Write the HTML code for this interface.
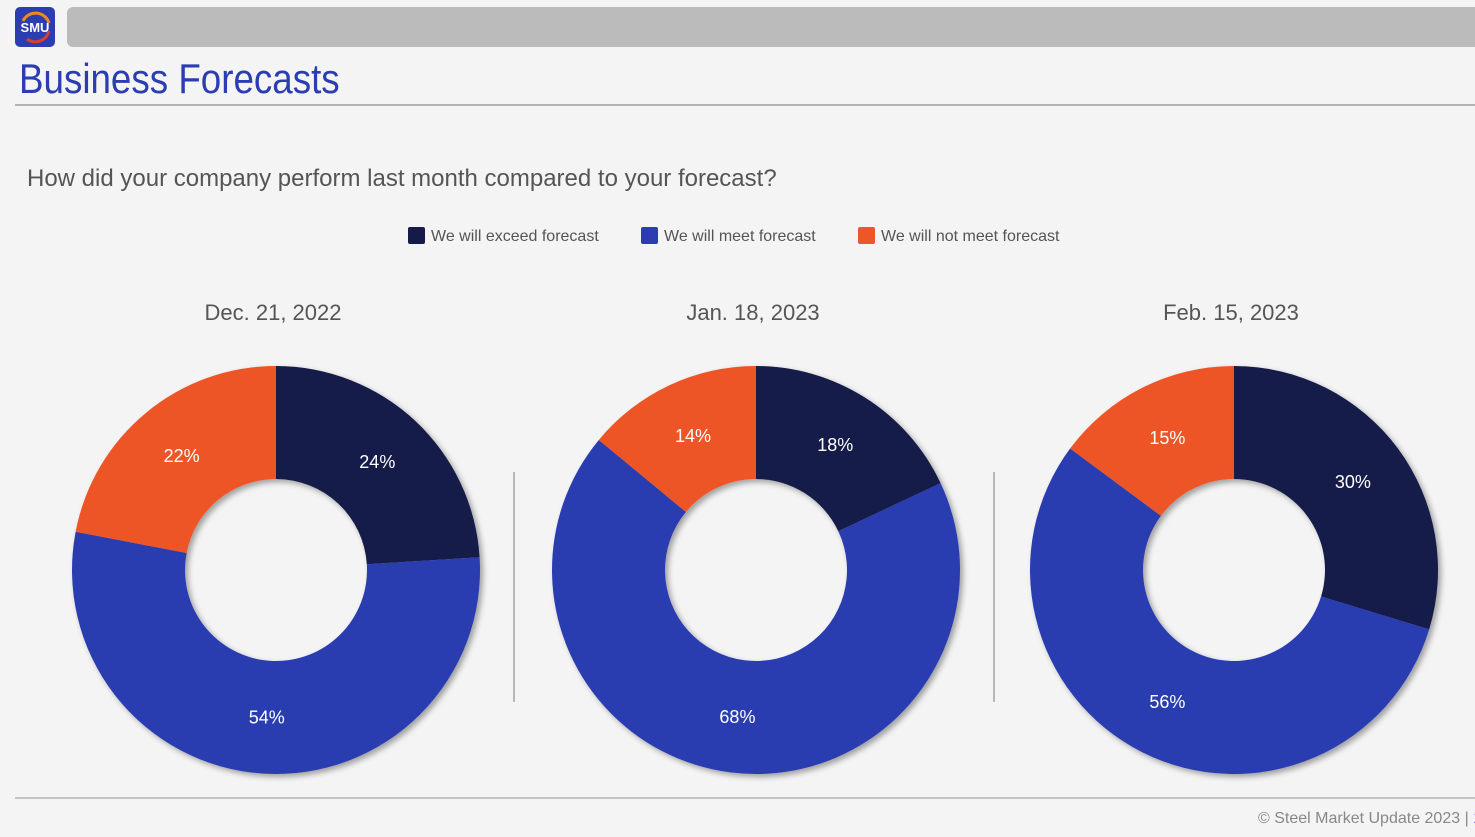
<!DOCTYPE html>
<html><head><meta charset="utf-8"><style>
body{margin:0;width:1475px;height:837px;background:#f4f4f4;font-family:"Liberation Sans",sans-serif;overflow:hidden;position:relative}
.abs{position:absolute}
</style></head><body>
<div class="abs" style="left:15px;top:7px;width:40px;height:40px;background:#2b3db0;border-radius:5px;overflow:hidden">
<svg width="40" height="40"><path d="M8 14 A14 14 0 0 1 34 16" stroke="#f08a1c" stroke-width="3" fill="none"/><path d="M34 24 A14 14 0 0 1 12 32" stroke="#d8402a" stroke-width="3" fill="none"/><text x="20" y="25" text-anchor="middle" fill="#fff" font-weight="bold" font-size="13" font-family="Liberation Sans">SMU</text></svg></div>
<div class="abs" style="left:67px;top:7px;width:1420px;height:40px;background:#bbbbbb;border-radius:6px"></div>
<div class="abs" style="left:19px;top:55px;font-size:42px;color:#2b3db0;transform:scaleX(0.875);transform-origin:left">Business Forecasts</div>
<div class="abs" style="left:15px;top:104px;width:1460px;height:2px;background:#b4b4b4"></div>
<div class="abs" style="left:27px;top:165px;font-size:24px;color:#555;white-space:nowrap">How did your company perform last month compared to your forecast?</div>
<div class="abs" style="left:15px;top:797px;width:1460px;height:2px;background:#c4c4c4"></div>
<div class="abs" style="left:1258px;top:810px;font-size:16px;color:#888;white-space:nowrap">© Steel Market Update 2023 | <span style="color:#2b3db0">1</span></div>
<svg id="chart" class="abs" style="left:0;top:0" width="1475" height="837">
<defs><filter id="sh" x="-20%" y="-20%" width="140%" height="140%"><feDropShadow dx="3" dy="3" stdDeviation="3" flood-color="#000" flood-opacity="0.35"/></filter></defs>
</svg>
<script>
const categories=["We will exceed forecast","We will meet forecast","We will not meet forecast"];
const dates=["Dec. 21, 2022","Jan. 18, 2023","Feb. 15, 2023"];
const exceedVals=[24,18,30];
const meetVals=[54,68,56];
const notMeetVals=[22,14,15];
const colors=["#151a48","#2b3db0","#ee5528"];
const svg=document.getElementById('chart');
const NS='http://www.w3.org/2000/svg';
function mk(t,a){const e=document.createElementNS(NS,t);for(const k in a)e.setAttribute(k,a[k]);return e;}
const legX=[408,641,858];
categories.forEach((c,i)=>{
  const r=mk('rect',{x:legX[i],y:227,width:17,height:17,rx:2,fill:colors[i]});
  
  
  svg.appendChild(r);
  const t=mk('text',{x:legX[i]+23,y:241,'font-size':16,fill:'#555','font-family':'Liberation Sans'});
  t.textContent=c;
  
  
  svg.appendChild(t);
});
const cxs=[276,756,1234],cy=570,R=204,r0=91;
function pt(cx,a,rad){return [cx+rad*Math.sin(a),cy-rad*Math.cos(a)];}
dates.forEach((d,j)=>{
  const cx=cxs[j];
  const t=mk('text',{x:cx-3,y:320,'font-size':22,fill:'#555','text-anchor':'middle','font-family':'Liberation Sans'});
  t.textContent=d;
  
  
  svg.appendChild(t);
  const vals=[exceedVals[j],meetVals[j],notMeetVals[j]];
  const sum=vals.reduce((a,b)=>a+b,0);
  const g=mk('g',{filter:'url(#sh)'});
  
  
  svg.appendChild(g);
  let a=0;const labels=[];
  vals.forEach((v,i)=>{
    const a1=a+v/sum*2*Math.PI;
    const [x0,y0]=pt(cx,a,R),[x1,y1]=pt(cx,a1,R),[x2,y2]=pt(cx,a1,r0),[x3,y3]=pt(cx,a,r0);
    const lg=(a1-a)>Math.PI?1:0;
    const p=mk('path',{d:`M${x0} ${y0}A${R} ${R} 0 ${lg} 1 ${x1} ${y1}L${x2} ${y2}A${r0} ${r0} 0 ${lg} 0 ${x3} ${y3}Z`,fill:colors[i]});
    
    
    g.appendChild(p);
    const [lx,ly]=pt(cx,(a+a1)/2,148);
    labels.push([lx,ly,v]);
    a=a1;
  });
  labels.forEach(([lx,ly,v])=>{
    const l=mk('text',{x:lx,y:ly+6,'font-size':18,fill:'#fff','text-anchor':'middle','font-family':'Liberation Sans'});
    l.textContent=v+'%';
    
    
    svg.appendChild(l);
  });
});
[514,994].forEach(x=>{
  const s=mk('rect',{x:x-1,y:472,width:2,height:230,fill:'#b8b8b8'});
  
  
  svg.appendChild(s);
});
</script>
</body></html>
